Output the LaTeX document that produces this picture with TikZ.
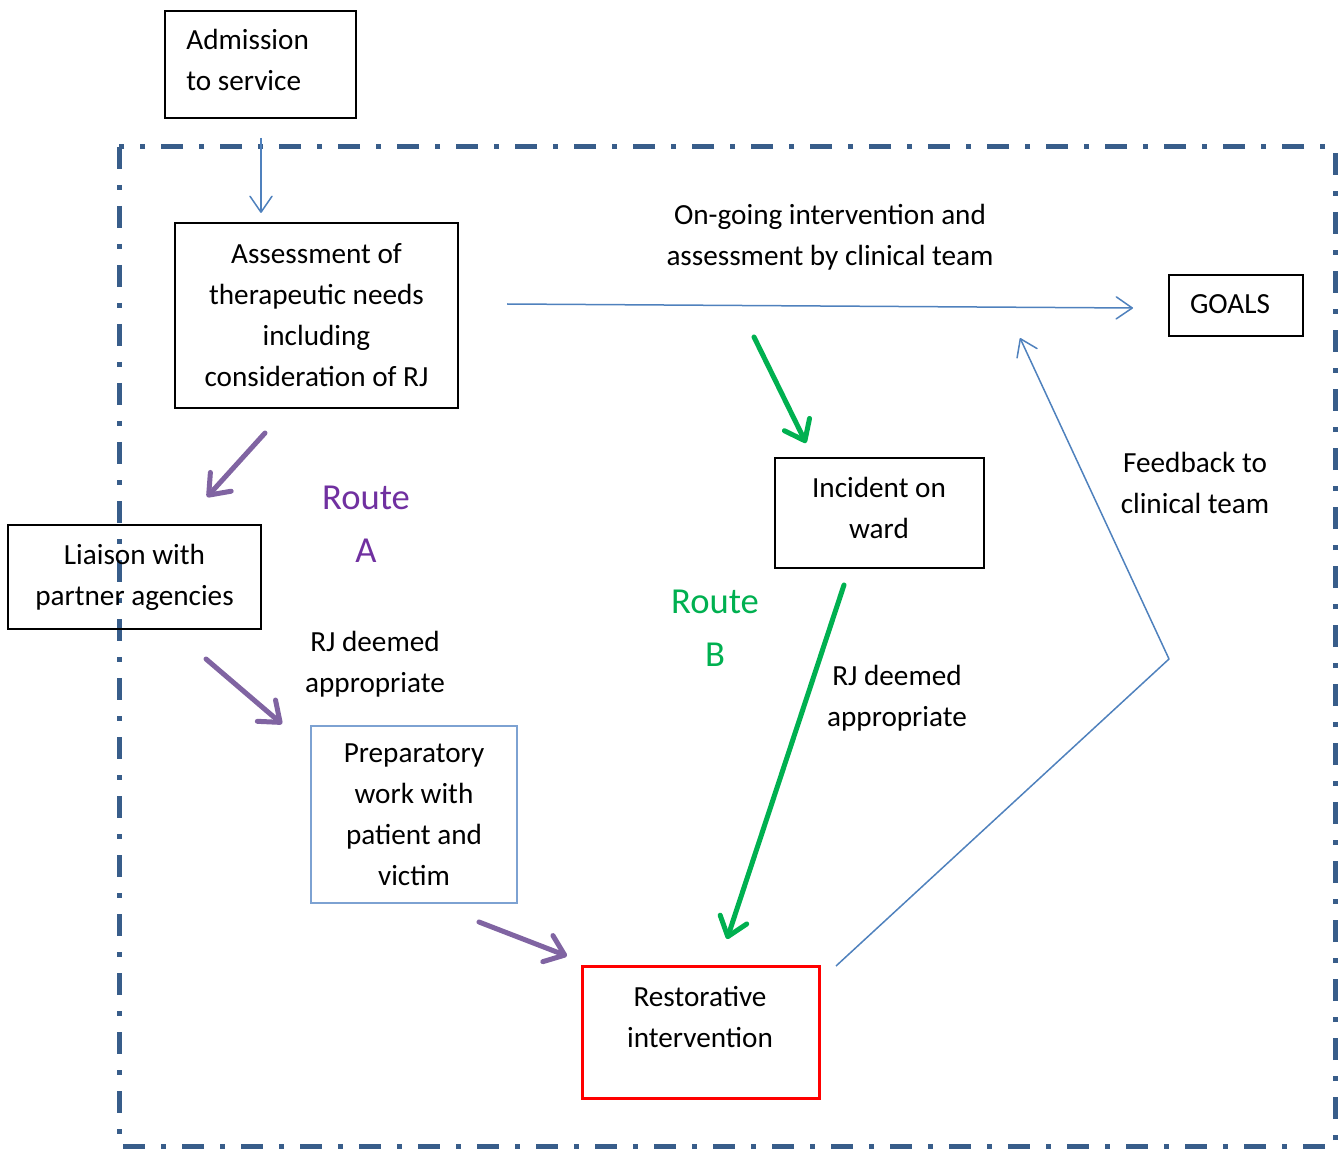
\documentclass[tikz,border=0pt]{standalone}
\usepackage{fontspec}
\setmainfont{Carlito}
\usetikzlibrary{arrows.meta}
\definecolor{linkblue}{HTML}{4F81BD}
\definecolor{frameblue}{HTML}{385D8A}
\definecolor{prepblue}{HTML}{7DA2D2}
\definecolor{routepurple}{HTML}{7030A0}
\definecolor{arrowpurple}{HTML}{8064A2}
\definecolor{routegreen}{HTML}{00B050}
\tikzset{
  txt/.style={font=\fontsize{14.6}{20.5}\selectfont, align=center, inner sep=0pt},
  routetxt/.style={font=\fontsize{18.3}{26.5}\selectfont, align=center, inner sep=0pt},
  box/.style={draw=black, line width=0.65pt, inner sep=0pt},
  thinlink/.style={draw=linkblue, line width=0.75pt,
    -{Straight Barb[length=8pt, width=11pt, round]}},
  purplelink/.style={draw=arrowpurple, line width=2.5pt, line cap=round,
    -{Straight Barb[length=9pt, width=14pt, round]}},
  greenlink/.style={draw=routegreen, line width=2.5pt, line cap=round,
    -{Straight Barb[length=9pt, width=14pt, round]}},
}
\begin{document}
\begin{tikzpicture}[x=0.5pt, y=-0.5pt]
\useasboundingbox (0,0) rectangle (1342,1149);

% service boundary
\draw[frameblue, line width=2.5pt,
  dash pattern=on 11pt off 8pt on 2.5pt off 8pt]
  (119,147) rectangle (1335,1146);

% boxes
\node[box, minimum width=95.5pt, minimum height=53.5pt] (admit) at (260.5,64.5) {};
\node[txt, align=left, anchor=west] (admittxt) at (186,60) {Admission\\to service};

\node[box, txt, minimum width=141.5pt, minimum height=92.5pt] (assess) at (316.5,315.5)
  {Assessment of\\therapeutic needs\\including\\consideration of RJ};

\node[box, txt, minimum width=126.5pt, minimum height=52pt] (liaison) at (134.5,577)
  {Liaison with\\partner agencies};

\node[box, txt, draw=prepblue, minimum width=103pt, minimum height=88.5pt] (prep) at (414,814.5)
  {Preparatory\\work with\\patient and\\victim};

\node[box, draw=red, line width=1.5pt, minimum width=118.5pt, minimum height=66pt] (restor) at (700.5,1032) {};
\node[txt] (restortxt) at (700,1017.5) {Restorative\\intervention};

\node[box, minimum width=104.5pt, minimum height=55pt] (incident) at (879.5,513) {};
\node[txt] (incidenttxt) at (879,507.5) {Incident on\\ward};

\node[box, minimum width=67pt, minimum height=30.5pt] (goals) at (1236,305.5) {};
\node[txt] (goalstxt) at (1230,304.5) {GOALS};

% free text
\node[txt] (ongoing) at (830,237.5) {On-going intervention and\\assessment by clinical team};
\node[txt] (feedback) at (1195,482.5) {Feedback to\\clinical team};
\node[routetxt, text=routepurple] (routea) at (366,524.5) {Route\\A};
\node[routetxt, text=routegreen] (routeb) at (715,628.5) {Route\\B};
\node[txt] (deemeda) at (375,664) {RJ deemed\\appropriate};
\node[txt] (deemedb) at (897,698) {RJ deemed\\appropriate};

% connector end points
\coordinate (admitout) at (261,138);
\coordinate (assessin) at (261,213);
\coordinate (assessout) at (507,304);
\coordinate (goalsin) at (1133,308);
\coordinate (restorout) at (836,966);
\coordinate (bend) at (1169,659);
\coordinate (feedin) at (1020,338);
\coordinate (aout) at (265,433);
\coordinate (lin) at (207,497);
\coordinate (lout) at (206,659);
\coordinate (pin) at (282,724);
\coordinate (pout) at (479,922);
\coordinate (rin) at (567,956);
\coordinate (wardtop) at (754,337);
\coordinate (iin) at (806,443);
\coordinate (iout) at (844,585);
\coordinate (rinb) at (727,939);

% connectors
\draw[thinlink] (admitout) -- (assessin);
\draw[thinlink] (assessout) -- (goalsin);
\draw[thinlink, line join=round] (restorout) -- (bend) -- (feedin);

\draw[purplelink] (aout) -- (lin);
\draw[purplelink] (lout) -- (pin);
\draw[purplelink] (pout) -- (rin);

\draw[greenlink] (wardtop) -- (iin);
\draw[greenlink] (iout) -- (rinb);
\end{tikzpicture}
\end{document}
